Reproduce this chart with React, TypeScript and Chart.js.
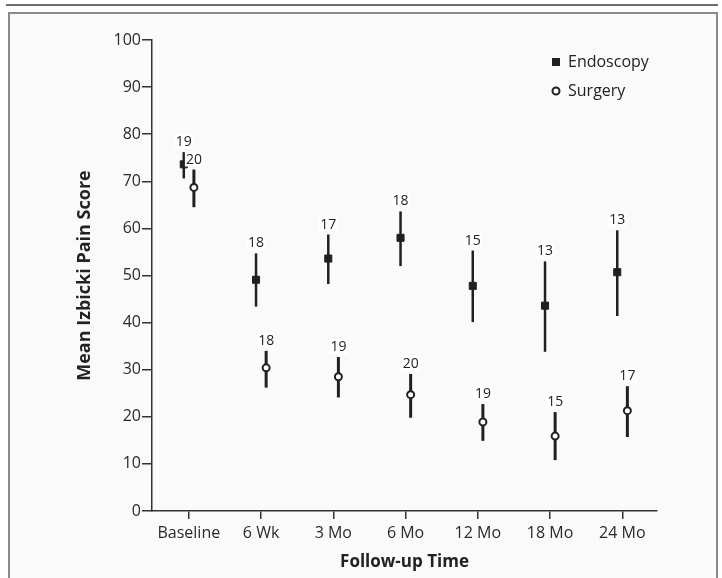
import React, { useEffect, useRef } from 'react';
import { Chart, registerables } from 'chart.js';

Chart.register(...registerables);

const FONT = '"Open Sans", "Noto Sans", sans-serif';
const INK = '#231f20';

const categories = ['Baseline', '6 Wk', '3 Mo', '6 Mo', '12 Mo', '18 Mo', '24 Mo'];
const yTicks = [0, 10, 20, 30, 40, 50, 60, 70, 80, 90, 100];

const endoMean = [73.6, 49.1, 53.6, 58.0, 47.8, 43.6, 50.7];
const endoLow = [70.6, 43.4, 48.2, 52.0, 40.1, 33.8, 41.4];
const endoHigh = [76.2, 54.7, 58.7, 63.6, 55.3, 53.0, 59.6];
const endoN = [19, 18, 17, 18, 15, 13, 13];

const surgMean = [68.7, 30.4, 28.5, 24.7, 18.9, 15.9, 21.3];
const surgLow = [64.5, 26.2, 24.1, 19.8, 14.9, 10.8, 15.7];
const surgHigh = [72.5, 34.0, 32.7, 29.1, 22.7, 21.0, 26.5];
const surgN = [20, 18, 19, 20, 19, 15, 17];

const seriesNames = ['Endoscopy', 'Surgery'];

export default function App() {
  const ref = useRef<HTMLCanvasElement>(null);

  useEffect(() => {
    if (!ref.current) return;
    const groups = [
      { off: -0.07, mean: endoMean, low: endoLow, high: endoHigh, n: endoN, lw: 2.5 },
      { off: 0.07, mean: surgMean, low: surgLow, high: surgHigh, n: surgN, lw: 3 },
    ];

    const plugin = {
      id: 'errAndLabels',
      beforeDatasetsDraw(chart: any) {
        const { ctx, scales } = chart;
        const xs = scales.x, ys = scales.y;
        ctx.save();
        ctx.strokeStyle = INK;
        ctx.lineCap = 'butt';
        groups.forEach((g) => {
          ctx.lineWidth = g.lw;
          g.mean.forEach((_, i) => {
            const px = xs.getPixelForValue(i + g.off);
            ctx.beginPath();
            ctx.moveTo(px, ys.getPixelForValue(g.low[i]));
            ctx.lineTo(px, ys.getPixelForValue(g.high[i]));
            ctx.stroke();
          });
        });
        ctx.restore();
      },
      afterDatasetsDraw(chart: any) {
        const { ctx, scales } = chart;
        const xs = scales.x, ys = scales.y;
        ctx.save();
        ctx.font = `14px ${FONT}`;
        ctx.textAlign = 'center';
        ctx.textBaseline = 'middle';
        groups.forEach((g) => {
          g.mean.forEach((_, i) => {
            const px = xs.getPixelForValue(i + g.off);
            const py = ys.getPixelForValue(g.high[i]) - 10;
            const t = String(g.n[i]);
            const w = ctx.measureText(t).width;
            ctx.fillStyle = '#ffffff';
            ctx.fillRect(px - w / 2 - 1, py - 8, w + 2, 15);
            ctx.fillStyle = '#222';
            ctx.fillText(t, px, py);
          });
        });
        // legend
        const lx = 556;
        const ly = [62, 91];
        ctx.fillStyle = INK;
        ctx.fillRect(lx - 4, ly[0] - 4, 8, 8);
        ctx.beginPath();
        ctx.arc(lx, ly[1], 3.5, 0, Math.PI * 2);
        ctx.fillStyle = '#fff';
        ctx.fill();
        ctx.lineWidth = 2;
        ctx.strokeStyle = INK;
        ctx.stroke();
        ctx.font = `16px ${FONT}`;
        ctx.textAlign = 'left';
        ctx.fillStyle = '#222';
        ctx.fillText(seriesNames[0], 568, ly[0]);
        ctx.fillText(seriesNames[1], 568, ly[1]);
        ctx.restore();
      },
    };

    const chart = new Chart(ref.current, {
      type: 'scatter',
      data: {
        datasets: [
          {
            label: seriesNames[0],
            data: endoMean.map((v, i) => ({ x: i - 0.07, y: v })),
            pointStyle: 'rect',
            pointRadius: 5,
            backgroundColor: INK,
            borderColor: INK,
            borderWidth: 1,
          },
          {
            label: seriesNames[1],
            data: surgMean.map((v, i) => ({ x: i + 0.07, y: v })),
            pointStyle: 'circle',
            pointRadius: 3.5,
            backgroundColor: '#ffffff',
            borderColor: INK,
            borderWidth: 2,
          },
        ],
      },
      options: {
        responsive: false,
        animation: false,
        layout: { padding: { top: 40, right: 65, bottom: 0, left: 0 } },
        plugins: { legend: { display: false }, tooltip: { enabled: false } },
        scales: {
          x: {
            type: 'linear',
            min: -0.51,
            max: 6.48,
            afterBuildTicks: (s: any) => {
              s.ticks = categories.map((_, i) => ({ value: i }));
            },
            afterFit: (s: any) => {
              s.height = 67;
            },
            ticks: {
              autoSkip: false,
              maxRotation: 0,
              padding: 5,
              color: '#2a2a2a',
              font: { family: FONT, size: 16 },
              callback: (v: any) => categories[v] ?? '',
            },
            grid: { drawOnChartArea: false, drawTicks: true, tickLength: 8, color: '#333', lineWidth: 1.5 },
            border: { display: true, color: '#333', width: 1.5 },
            title: {
              display: true,
              text: 'Follow-up Time',
              color: '#222',
              font: { family: FONT, size: 17, weight: 'bold' },
              padding: { top: 0, bottom: 6 },
            },
          },
          y: {
            min: 0,
            max: 100,
            afterBuildTicks: (s: any) => {
              s.ticks = yTicks.map((v) => ({ value: v }));
            },
            afterFit: (s: any) => {
              s.width = 152;
            },
            ticks: {
              padding: 1,
              color: '#2a2a2a',
              font: { family: FONT, size: 16 },
            },
            grid: { drawOnChartArea: false, drawTicks: true, tickLength: 10, color: '#333', lineWidth: 1.5 },
            border: { display: true, color: '#333', width: 1.5 },
            title: {
              display: true,
              text: 'Mean Izbicki Pain Score',
              color: '#222',
              font: { family: FONT, size: 18, weight: 'bold' },
              padding: { top: 74, bottom: 0 },
            },
          },
        },
      },
      plugins: [plugin],
    } as any);
    return () => chart.destroy();
  }, []);

  return (
    <div style={{ position: 'fixed', left: 0, top: 0, width: 722, height: 578, background: '#fff', overflow: 'hidden' }}>
      <div style={{ position: 'absolute', left: 6, top: 4, width: 712, height: 2, background: '#6d6d6d' }} />
      <div
        style={{
          position: 'absolute',
          left: 8,
          top: 12,
          width: 706,
          height: 600,
          border: '2px solid #8a8a8a',
          background: '#fafafa',
        }}
      />
      <canvas ref={ref} width={722} height={578} style={{ position: 'absolute', left: 0, top: 0, width: 722, height: 578 }} />
    </div>
  );
}
